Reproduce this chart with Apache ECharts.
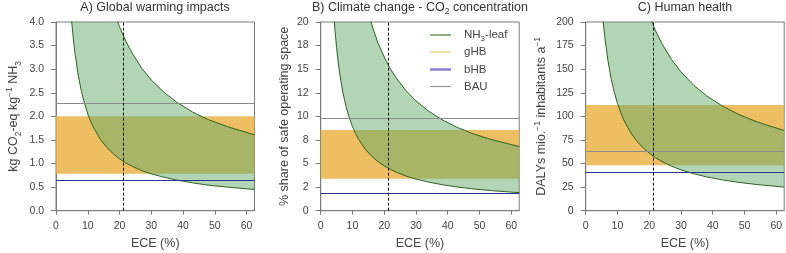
<!DOCTYPE html>
<html>
<head>
<meta charset="utf-8">
<script src="https://cdn.jsdelivr.net/npm/echarts@6/dist/echarts.min.js"></script>
<style>
  html, body { margin: 0; padding: 0; background: #fff; }
  #container { width: 786px; height: 253px; }
</style>
</head>
<body>
<div id="container"></div>
<script>
const ece = [4, 4.5, 5, 5.5, 6, 7, 8, 9, 10, 11, 12, 14, 16, 18, 20, 22, 24, 27, 30, 34, 38, 43, 48, 54, 62.5];

// A) Global warming impacts
const lowerA = [4.92, 4.39, 3.96, 3.62, 3.33, 2.87, 2.53, 2.27, 2.05, 1.88, 1.74, 1.51, 1.34, 1.21, 1.10, 1.01, 0.94, 0.85, 0.78, 0.71, 0.65, 0.59, 0.54, 0.50, 0.45];
const upperA = [17.4, 15.5, 14.0, 12.8, 11.8, 10.1, 8.95, 8.02, 7.27, 6.65, 6.14, 5.34, 4.74, 4.27, 3.90, 3.59, 3.34, 3.02, 2.77, 2.51, 2.30, 2.09, 1.93, 1.78, 1.61];
const ghbA = [0.785, 2.0];
const bhbA = 0.643;
const bauA = 2.27;

// B) Climate change - CO2 concentration
const lowerB = [21.4, 19.1, 17.3, 15.75, 14.5, 12.5, 11.0, 9.85, 8.92, 8.16, 7.53, 6.53, 5.79, 5.21, 4.75, 4.37, 4.05, 3.66, 3.35, 3.03, 2.77, 2.51, 2.31, 2.12, 1.91];
const upperB = [72.1, 64.3, 58.1, 53.1, 48.8, 42.2, 37.2, 33.3, 30.2, 27.7, 25.6, 22.3, 19.8, 17.8, 16.3, 15.0, 13.97, 12.67, 11.64, 10.55, 9.68, 8.83, 8.15, 7.51, 6.80];
const ghbB = [3.38, 8.55];
const bhbB = 1.85;
const bauB = 9.82;

// C) Human health
const lowerC = [272, 243, 219.5, 200.3, 184.3, 159.1, 140.2, 125.5, 113.8, 104.2, 96.2, 83.6, 74.2, 66.8, 61.0, 56.1, 52.1, 47.2, 43.3, 39.2, 35.9, 32.7, 30.1, 27.7, 25.0];
const upperC = [924, 824, 745, 679, 625, 540, 476, 426, 386, 353, 326, 284, 251.7, 226.8, 206.9, 190.6, 177, 160.4, 147.1, 133.0, 121.9, 111.0, 102.3, 94.0, 85.0];
const ghbC = [48.1, 112];
const bhbC = 40.7;
const bauC = 63.4;

const eceCurrent = 21.3;

const xTicks = [0, 10, 20, 30, 40, 50, 60];
const yTicksB = ['0', '2', '5', '8', '10', '12', '15', '18', '20'];

const FONT = 'Liberation Sans, Arial, sans-serif';
const GREEN_LINE = '#2f6122';
const GREEN_FILL = 'rgba(100,172,108,0.5)';
const ORANGE_FILL = 'rgba(234,180,70,0.85)';
const BHB = '#28368a';
const BAU = '#8c8c8c';

let myChart = echarts.init(document.getElementById('container'), null, { renderer: 'canvas' });

const panels = [
    { left: 56, lower: lowerA, upper: upperA, ghb: ghbA, bhb: bhbA, bau: bauA, ymax: 4, step: 0.5,
      fmt: v => v.toFixed(1), name: 'kg CO{sub|2}-eq kg{sup|−1} NH{sub|3}', gap: 33 },
    { left: 320.7, lower: lowerB, upper: upperB, ghb: ghbB, bhb: bhbB, bau: bauB, ymax: 20, step: 2.5,
      fmt: (v, i) => yTicksB[i], name: '% share of safe operating space', gap: 27 },
    { left: 585.7, lower: lowerC, upper: upperC, ghb: ghbC, bhb: bhbC, bau: bauC, ymax: 200, step: 25,
      fmt: v => String(v), name: 'DALYs mio.{sup|−1} inhabitants a{sup|−1}', gap: 35 }
];

const richName = {
    sub: { fontSize: 8.5, verticalAlign: 'bottom', lineHeight: 18, fontFamily: FONT, color: '#444' },
    sup: { fontSize: 8.5, verticalAlign: 'top', lineHeight: 18, fontFamily: FONT, color: '#444' }
};

let grid = [], xAxis = [], yAxis = [], series = [];

panels.forEach((p, i) => {
    grid.push({
        left: p.left, top: 22, width: 198.5, height: 188.7, outerBoundsMode: 'none', containLabel: false,
        show: true, borderColor: '#7a7a7a', borderWidth: 1, backgroundColor: 'transparent'
    });
    xAxis.push({
        type: 'value', gridIndex: i, min: 0, max: 62.5, interval: 10,
        name: 'ECE (%)', nameLocation: 'middle', nameGap: 25,
        nameTextStyle: { fontSize: 12.5, color: '#444', fontFamily: FONT },
        axisLine: { show: true, lineStyle: { color: '#7a7a7a' } },
        axisTick: { show: true, inside: false, length: 4, lineStyle: { color: '#7a7a7a' }, customValues: xTicks },
        axisLabel: { fontSize: 10.5, color: '#444', fontFamily: FONT, margin: 10, customValues: xTicks },
        splitLine: { show: false }
    });
    yAxis.push({
        type: 'value', gridIndex: i, min: 0, max: p.ymax, interval: p.step,
        name: p.name, nameLocation: 'middle', nameRotate: 90, nameGap: p.gap,
        nameTextStyle: { fontSize: 12.5, color: '#444', fontFamily: FONT, lineHeight: 18, rich: richName },
        axisLine: { show: true, lineStyle: { color: '#7a7a7a' } },
        axisTick: { show: true, inside: false, length: 5, lineStyle: { color: '#7a7a7a' } },
        axisLabel: { fontSize: 10.5, color: '#444', fontFamily: FONT, margin: 12, formatter: p.fmt },
        splitLine: { show: false }
    });

    const lowPts = ece.map((x, k) => [x, p.lower[k]]);
    const upPts = ece.map((x, k) => [x, p.upper[k]]);

    // green band between the two NH3-leaf curves
    series.push({
        type: 'custom', xAxisIndex: i, yAxisIndex: i, data: [[0, 0]], silent: true, z: 1,
        renderItem: (params, api) => {
            const pts = upPts.map(d => api.coord(d))
                .concat(lowPts.slice().reverse().map(d => api.coord(d)));
            const cs = params.coordSys;
            return {
                type: 'polygon', shape: { points: pts },
                style: { fill: GREEN_FILL, stroke: null },
                clipPath: { type: 'rect', shape: { x: cs.x, y: cs.y, width: cs.width, height: cs.height } }
            };
        }
    });
    // reference lines
    series.push({
        name: 'bHB', type: 'line', xAxisIndex: i, yAxisIndex: i, data: [], z: 2,
        itemStyle: { color: BHB }, lineStyle: { color: BHB },
        markLine: { silent: true, symbol: 'none', label: { show: false },
            lineStyle: { color: BHB, width: 1.2, type: 'solid' }, data: [{ yAxis: p.bhb }] }
    });
    series.push({
        name: 'BAU', type: 'line', xAxisIndex: i, yAxisIndex: i, data: [], z: 2,
        itemStyle: { color: BAU }, lineStyle: { color: BAU },
        markLine: { silent: true, symbol: 'none', label: { show: false },
            lineStyle: { color: BAU, width: 1, type: 'solid' }, data: [{ yAxis: p.bau }] }
    });
    // gHB range
    series.push({
        name: 'gHB', type: 'line', xAxisIndex: i, yAxisIndex: i, data: [], z: 3,
        itemStyle: { color: '#f0c070' },
        markArea: { silent: true, itemStyle: { color: ORANGE_FILL },
            data: [[{ yAxis: p.ghb[0] }, { yAxis: p.ghb[1] }]] }
    });
    // NH3-leaf curves
    series.push({
        name: 'NH3-leaf', type: 'line', xAxisIndex: i, yAxisIndex: i, data: lowPts, z: 4,
        symbol: 'none', itemStyle: { color: GREEN_LINE }, lineStyle: { color: GREEN_LINE, width: 1 }
    });
    series.push({
        name: 'NH3-leaf', type: 'line', xAxisIndex: i, yAxisIndex: i, data: upPts, z: 4,
        symbol: 'none', itemStyle: { color: GREEN_LINE }, lineStyle: { color: GREEN_LINE, width: 1 }
    });
    // current ECE
    series.push({
        type: 'line', xAxisIndex: i, yAxisIndex: i, data: [], z: 5,
        markLine: { silent: true, symbol: 'none', label: { show: false },
            lineStyle: { color: '#111', width: 1, type: [3, 2] }, data: [{ xAxis: eceCurrent }] }
    });
});

const legendItems = [
    { name: 'NH3-leaf', color: '#3b7a34', h: 1.2, top: 29 },
    { name: 'gHB', color: '#f2c878', h: 1.2, top: 46 },
    { name: 'bHB', color: '#8a7fcf', h: 2.5, top: 63.5 },
    { name: 'BAU', color: '#9a9a9a', h: 1.2, top: 80.5 }
];
const legend = legendItems.map(l => ({
    left: 430, top: l.top, orient: 'vertical', selectedMode: false, padding: 0,
    itemWidth: 21, itemHeight: l.h,
    data: [{ name: l.name, icon: 'rect', itemStyle: { color: l.color } }],
    formatter: n => n === 'NH3-leaf' ? 'NH{s|3}-leaf' : n,
    textStyle: { fontSize: 11.5, color: '#444', fontFamily: FONT, padding: [0, 0, 0, 8],
        rich: { s: { fontSize: 8, verticalAlign: 'bottom', lineHeight: 16, fontFamily: FONT, color: '#444' } } }
}));

const title = [
    { text: 'A) Global warming impacts', left: 155 },
    { text: 'B) Climate change - CO{sub|2} concentration', left: 420 },
    { text: 'C) Human health', left: 685 }
].map(t => ({
    text: t.text, left: t.left, top: 0, textAlign: 'center', padding: 0,
    textStyle: { fontSize: 12.5, fontWeight: 'normal', color: '#333', fontFamily: FONT, lineHeight: 16,
        rich: { sub: { fontSize: 8.5, verticalAlign: 'bottom', lineHeight: 16, fontFamily: FONT, color: '#333' } } }
}));

myChart.setOption({
    animation: false,
    title: title,
    legend: legend,
    grid: grid,
    xAxis: xAxis,
    yAxis: yAxis,
    series: series
});
</script>
</body>
</html>
